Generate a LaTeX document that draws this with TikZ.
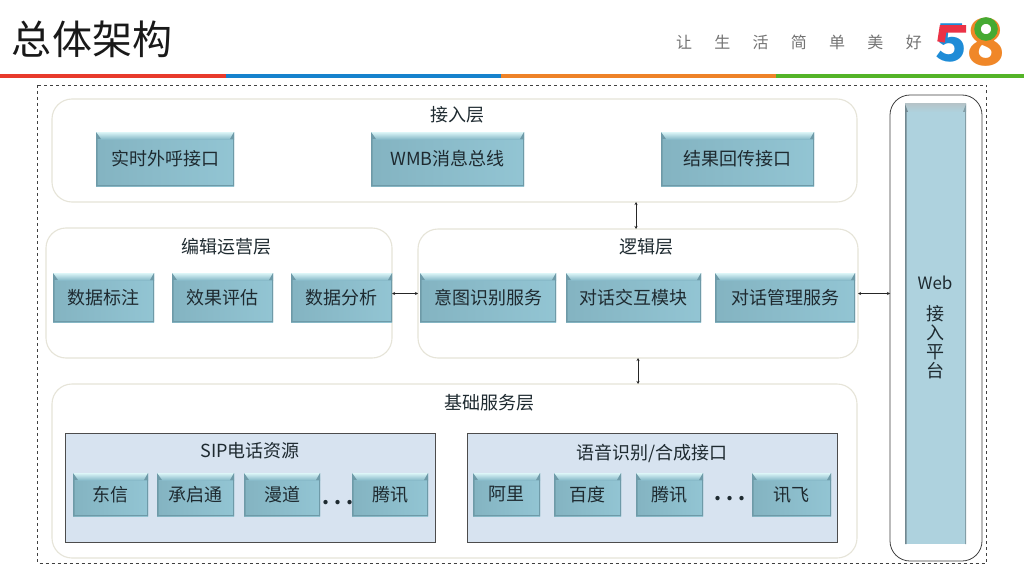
\documentclass[tikz,border=0pt]{standalone}
\usepackage{fontspec}
\setmainfont{Noto Sans CJK SC}
\usetikzlibrary{arrows.meta,calc}
\definecolor{boxbase}{HTML}{8FC3D2}
\definecolor{boxtop}{HTML}{DDF6F8}
\definecolor{boxside}{HTML}{6E9AA8}
\definecolor{panelline}{HTML}{E6E4D8}
\definecolor{subfill}{HTML}{D7E3F0}
\definecolor{webfill}{HTML}{AED2DE}
\definecolor{txt}{HTML}{1E2A30}
\tikzset{
  x=1pt,y=-1pt,
  pbase/.style={inner sep=0pt,outer sep=0pt,align=center,text=txt},
  panelbox/.style={pbase,draw=panelline,line width=1.1pt,rounded corners=20pt,fill=white},
  subbox/.style={pbase,draw=black!70,line width=.8pt,fill=subfill},
  modbox/.style={pbase,font=\fontsize{18}{20}\selectfont,fill=boxbase,
    path picture={
      \coordinate (nw) at (path picture bounding box.north west);
      \coordinate (ne) at (path picture bounding box.north east);
      \coordinate (sw) at (path picture bounding box.south west);
      \coordinate (se) at (path picture bounding box.south east);
      \fill[left color=boxbase!92!black,right color=boxbase!97!white] (nw) rectangle (se);
      \shade[top color=boxtop,bottom color=boxbase!96!black] (nw) rectangle ([yshift=-7pt]ne);
      \fill[boxside] (nw) -- ([xshift=5pt,yshift=-7pt]nw) -- ([xshift=1.5pt,yshift=-7pt]nw) -- ([xshift=1.5pt]sw) -- (sw) -- cycle;
      \fill[boxside] (ne) -- ([xshift=-4pt,yshift=-7pt]ne) -- ([xshift=-1pt,yshift=-7pt]ne) -- ([xshift=-1pt]se) -- (se) -- cycle;
      \fill[boxside] (sw) rectangle ([yshift=1.5pt]se);
    }},
  paneltitle/.style={pbase,font=\fontsize{18}{20}\selectfont},
  dotrow/.style={pbase,anchor=base,font=\fontsize{20}{22}\bfseries\selectfont},
  link/.style={draw=black!85,line width=.5pt,{Stealth[length=3pt,width=3pt]}-{Stealth[length=3pt,width=3pt]}},
  stripe/.style={line width=4.5pt},
}
\newcommand{\placebox}[7]{%
  \pgfmathsetmacro{\cxx}{(#3+#5)/2}\pgfmathsetmacro{\cyy}{(#4+#6)/2}%
  \pgfmathsetmacro{\www}{#5-#3}\pgfmathsetmacro{\hhh}{#6-#4}%
  \node[#1,minimum width=\www pt,minimum height=\hhh pt] (#2) at (\cxx,\cyy) {#7};}
\begin{document}
\begin{tikzpicture}
\useasboundingbox (0,0) rectangle (1024,575);
\fill[white] (0,0) rectangle (1024,575);
% header
\node[pbase,font=\fontsize{40}{44}\selectfont,text=black!90,anchor=west] (title) at (12,39) {总体架构};
\node[pbase,font=\fontsize{16}{18}\selectfont,text=black!55,anchor=west] (slogan) at (676,42)
 {让\hspace{22.3pt}生\hspace{22.3pt}活\hspace{22.3pt}简\hspace{22.3pt}单\hspace{22.3pt}美\hspace{22.3pt}好};
% logo
\node[pbase,font=\fontsize{52}{52}\bfseries\selectfont,text={rgb,255:red,30;green,140;blue,215}] (five) at (951,43) {5};
\node[pbase,font=\fontsize{64}{64}\bfseries\selectfont,text={rgb,255:red,240;green,135;blue,40}] (eight) at (985.5,42) {8};
\draw[draw={rgb,255:red,235;green,50;blue,70},line width=7.5pt] (966,29) -- (943,29) -- (941,42);
\draw[draw={rgb,255:red,70;green,170;blue,50},fill=white,line width=6.5pt] (986,29) circle[radius=8.5];
% stripes
\draw[stripe,draw={rgb,255:red,232;green,58;blue,44}] (0,76) -- (226,76);
\draw[stripe,draw={rgb,255:red,22;green,130;blue,205}] (226,76) -- (501,76);
\draw[stripe,draw={rgb,255:red,238;green,130;blue,40}] (501,76) -- (776,76);
\draw[stripe,draw={rgb,255:red,84;green,180;blue,40}] (776,76) -- (1024,76);
% outer frame
\draw[black!75,dashed,line width=.7pt] (37.5,85) rectangle (986,563);
% panels
\placebox{panelbox}{access}{52}{99}{857}{202}{}
\placebox{panelbox}{ops}{46}{228}{392}{358}{}
\placebox{panelbox}{logic}{418}{229}{858}{358}{}
\placebox{panelbox}{base}{52}{384}{857}{558}{}
\node[paneltitle] (accesst) at (457,115) {接入层};
\node[paneltitle] (opst) at (226.5,247) {编辑运营层};
\node[paneltitle] (logict) at (646.5,247) {逻辑层};
\node[paneltitle] (baset) at (489,403) {基础服务层};
% access
\placebox{modbox}{a1}{96}{132}{234}{186}{实时外呼接口}
\placebox{modbox}{a2}{371}{132}{524}{186}{WMB消息总线}
\placebox{modbox}{a3}{661}{132}{814}{186}{结果回传接口}
% ops
\placebox{modbox}{o1}{53}{273}{154}{322}{数据标注}
\placebox{modbox}{o2}{172}{273}{273}{322}{效果评估}
\placebox{modbox}{o3}{291}{273}{392}{322}{数据分析}
% logic
\placebox{modbox}{l1}{420}{273}{556}{322}{意图识别服务}
\placebox{modbox}{l2}{566}{273}{701}{322}{对话交互模块}
\placebox{modbox}{l3}{715}{273}{855}{322}{对话管理服务}
% base
\placebox{subbox}{sip}{65}{433}{435}{542}{}
\placebox{subbox}{asr}{467}{433}{837}{542}{}
\node[paneltitle] (sipt) at (250,451) {SIP电话资源};
\node[paneltitle] (asrt) at (652,453) {语音识别/合成接口};
\placebox{modbox}{s1}{73}{473}{148}{516}{东信}
\placebox{modbox}{s2}{157}{473}{234}{516}{承启通}
\placebox{modbox}{s3}{244}{473}{320}{516}{漫道}
\placebox{modbox}{s4}{352}{473}{428}{516}{腾讯}
\node[dotrow] (sdots) at (338,504) {.\hspace{5pt}.\hspace{5pt}.};
\placebox{modbox}{r1}{473}{473}{540}{516}{阿里}
\placebox{modbox}{r2}{554}{473}{621}{516}{百度}
\placebox{modbox}{r3}{636}{473}{703}{516}{腾讯}
\placebox{modbox}{r4}{752}{473}{831}{516}{讯飞}
\node[dotrow] (rdots) at (730,500) {.\hspace{5pt}.\hspace{5pt}.};
% web
\placebox{pbase,draw=black!75,line width=.8pt,rounded corners=20pt,fill=white}{webo}{890}{95}{982}{561}{}
\placebox{pbase,fill=webfill}{webi}{905}{104}{966}{544}{}
\shade[top color=webfill!75!black!60,bottom color=webfill] (webi.north west) rectangle ($(webi.north east)+(0,8)$);
\fill[webfill!65!black] (webi.north west) -- ($(webi.north west)+(3,8)$) -- ($(webi.north west)+(1.5,8)$) -- ($(webi.south west)+(1.5,0)$) -- (webi.south west) -- cycle;
\fill[webfill!75!black] (webi.north east) -- ($(webi.north east)+(-3,8)$) -- ($(webi.north east)+(-1,8)$) -- ($(webi.south east)+(-1,0)$) -- (webi.south east) -- cycle;
\node[pbase,font=\fontsize{17}{20}\selectfont,anchor=center] (webt) at (935,283) {Web};
\node[pbase,font=\fontsize{18}{19}\selectfont,anchor=north] (webv) at (935,305) {接\\入\\平\\台};
% connectors
\draw[link] ([xshift=-2pt]logic.north) -- ([xshift=-2pt]logic.north |- access.south);
\draw[link] (logic.south) -- (logic.south |- base.north);
\draw[link] (logic.west) -- (logic.west -| o3.east);
\draw[link] (logic.east) -- (logic.east -| webo.west);
\end{tikzpicture}
\end{document}
